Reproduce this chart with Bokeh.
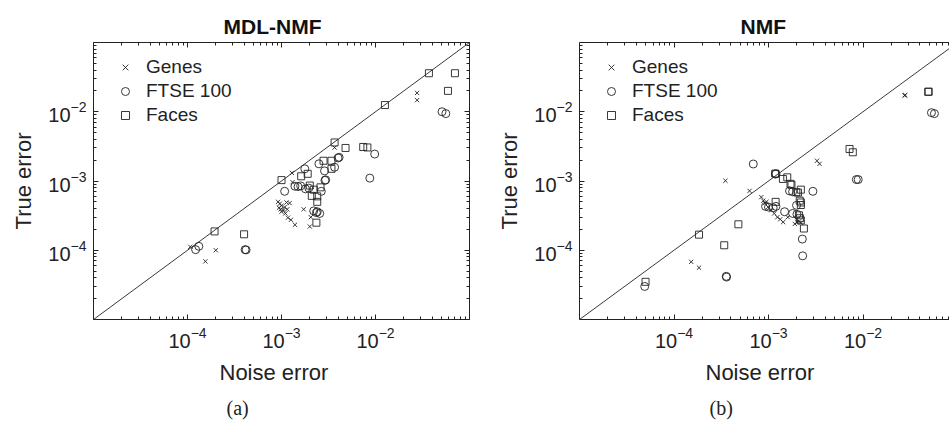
from bokeh.plotting import figure
from bokeh.layouts import row
from bokeh.models import (FixedTicker, LogAxis, Title, Legend, LegendItem, Range1d)
from bokeh.embed import file_html
from bokeh.resources import INLINE

# ---- MDL-NMF: (noise error, true error) pairs ----
mdl_genes_noise = [1.07e-4, 1.55e-4, 2.0e-4, 9.2e-4, 9.6e-4, 1.0e-3, 9.4e-4, 1.05e-3, 1.10e-3,
                   1.17e-3, 1.26e-3, 1.39e-3, 1.13e-3, 1.22e-3, 1.08e-3, 1.0e-3, 1.15e-3, 9.8e-4,
                   1.29e-3, 1.31e-3, 1.72e-3, 2.0e-3, 2.05e-3, 3.67e-3, 2.77e-2, 2.77e-2]
mdl_genes_true = [1.12e-4, 6.9e-5, 1.0e-4, 5.0e-4, 4.7e-4, 4.4e-4, 4.1e-4, 3.8e-4, 3.4e-4,
                  2.95e-4, 2.75e-4, 2.33e-4, 4.9e-4, 4.8e-4, 4.2e-4, 3.6e-4, 3.9e-4, 3.9e-4,
                  1.31e-3, 9.6e-4, 3.9e-4, 2.2e-4, 3.0e-4, 3.04e-3, 1.87e-2, 1.47e-2]

mdl_ftse_noise = [1.22e-4, 1.32e-4, 4.1e-4, 4.2e-4, 1.08e-3, 1.39e-3, 1.5e-3, 1.6e-3, 1.77e-3,
                  1.8e-3, 1.95e-3, 2.5e-3, 2.87e-3, 2.9e-3, 2.95e-3, 2.65e-3, 3.67e-3, 4.0e-3,
                  4.1e-3, 2.2e-3, 2.35e-3, 2.55e-3, 2.4e-3, 9.8e-3, 8.7e-3, 5.1e-2, 5.6e-2]
mdl_ftse_true = [1.02e-4, 1.14e-4, 1.02e-4, 1.01e-4, 7.1e-4, 8.4e-4, 8.3e-4, 8.5e-4, 1.5e-3,
                 7.7e-4, 7.9e-4, 1.77e-3, 1.4e-3, 1.02e-3, 1.04e-3, 7.1e-4, 1.58e-3, 2.15e-3,
                 2.2e-3, 3.7e-4, 3.5e-4, 3.4e-4, 3.6e-4, 2.45e-3, 1.1e-3, 1.0e-2, 9.4e-3]

mdl_faces_noise = [1.94e-4, 4.0e-4, 1.0e-3, 1.62e-3, 1.9e-3, 2.0e-3, 2.1e-3, 2.4e-3, 2.4e-3,
                   2.35e-3, 2.6e-3, 2.2e-3, 2.8e-3, 3.4e-3, 3.67e-3, 3.4e-3, 4.8e-3, 7.4e-3,
                   8.2e-3, 1.26e-2, 3.7e-2, 5.9e-2, 7.0e-2]
mdl_faces_true = [1.87e-4, 1.7e-4, 1.03e-3, 1.17e-3, 1.27e-3, 8.6e-4, 6.1e-4, 6.0e-4, 5.0e-4,
                  2.5e-4, 8.1e-4, 7.5e-4, 1.96e-3, 1.96e-3, 3.6e-3, 1.5e-3, 3.0e-3, 3.1e-3,
                  3.05e-3, 1.25e-2, 3.6e-2, 2.0e-2, 3.6e-2]

# ---- NMF: (noise error, true error) pairs ----
nmf_genes_noise = [1.52e-4, 1.84e-4, 3.5e-4, 6.3e-4, 8.4e-4, 8.8e-4, 9.2e-4, 9.9e-4, 1.07e-3,
                   1.15e-3, 1.24e-3, 1.33e-3, 1.43e-3, 9.5e-4, 1.6e-3, 1.9e-3, 2.0e-3, 2.1e-3,
                   2.2e-3, 3.26e-3, 3.47e-3, 2.75e-2, 2.8e-2]
nmf_genes_true = [6.8e-5, 5.6e-5, 1.01e-3, 7.2e-4, 5.85e-4, 5.2e-4, 4.8e-4, 4.2e-4, 3.8e-4,
                  3.4e-4, 3.0e-4, 2.8e-4, 2.55e-4, 5.0e-4, 3.0e-4, 2.4e-4, 2.55e-4, 2.6e-4,
                  2.5e-4, 1.96e-3, 1.77e-3, 1.72e-2, 1.74e-2]

nmf_ftse_noise = [4.9e-5, 3.57e-4, 3.6e-4, 6.9e-4, 1.18e-3, 1.2e-3, 9.3e-4, 1.0e-3, 1.12e-3,
                  1.2e-3, 1.48e-3, 1.67e-3, 1.8e-3, 1.98e-3, 1.8e-3, 2.0e-3, 2.28e-3, 2.3e-3,
                  2.95e-3, 8.5e-3, 8.9e-3, 5.3e-2, 5.7e-2]
nmf_ftse_true = [3.0e-5, 4.2e-5, 4.1e-5, 1.76e-3, 1.26e-3, 1.27e-3, 4.3e-4, 4.2e-4, 4.1e-4,
                 4.3e-4, 3.6e-4, 7.2e-4, 7.0e-4, 4.45e-4, 3.4e-4, 3.3e-4, 1.45e-4, 8.3e-5,
                 7.1e-4, 1.05e-3, 1.05e-3, 9.7e-3, 9.4e-3]

nmf_faces_noise = [5.0e-5, 1.84e-4, 3.4e-4, 4.8e-4, 1.18e-3, 1.19e-3, 1.42e-3, 1.58e-3, 1.71e-3,
                   1.75e-3, 1.97e-3, 2.05e-3, 2.2e-3, 2.14e-3, 2.2e-3, 2.2e-3, 2.1e-3, 2.15e-3,
                   2.2e-3, 2.37e-3, 7.2e-3, 7.8e-3, 4.9e-2, 4.95e-2]
nmf_faces_true = [3.5e-5, 1.68e-4, 1.18e-4, 2.37e-4, 1.28e-3, 5.0e-4, 1.07e-3, 1.13e-3, 9.1e-4,
                  8.8e-4, 6.9e-4, 6.8e-4, 7.5e-4, 5.2e-4, 4.9e-4, 4.5e-4, 3.2e-4, 2.9e-4,
                  2.7e-4, 2.06e-4, 2.9e-3, 2.6e-3, 1.94e-2, 1.95e-2]

series_names = ["Genes", "FTSE 100", "Faces"]
major_ticks = [1e-4, 1e-3, 1e-2]
axis_lo, axis_hi = 1e-5, 1e-1

FONT = "Liberation Sans"
INK = "#222222"
FRAME_H = 277
minor_ticks = [k * 10.0 ** d for d in range(-5, -1) for k in range(2, 10)]


def style_axis(ax, labels=True):
    ax.ticker = FixedTicker(ticks=major_ticks, minor_ticks=minor_ticks)
    ax.major_tick_in = 5
    ax.major_tick_out = 0
    ax.minor_tick_in = 3
    ax.minor_tick_out = 0
    ax.major_tick_line_color = INK
    ax.minor_tick_line_color = INK
    ax.axis_line_color = INK
    ax.major_label_text_font = FONT
    ax.major_label_text_font_size = "20px"
    ax.major_label_text_color = INK if labels else None
    ax.major_label_standoff = 7 if labels else 0


def make_panel(title, caption, gx, gy, fx, fy, sx, sy, x_end, frame_w,
               border_left, border_right, right_axis, offsets):
    title_off, xlabel_off, caption_off = offsets
    p = figure(x_axis_type="log", y_axis_type="log",
               x_range=Range1d(axis_lo, x_end), y_range=Range1d(axis_lo, axis_hi),
               frame_width=frame_w, frame_height=FRAME_H,
               min_border_left=border_left, min_border_right=border_right,
               min_border_top=42, min_border_bottom=105,
               output_backend="svg", toolbar_location=None)
    p.grid.visible = False
    p.outline_line_color = INK if right_axis else None
    p.background_fill_color = "white"
    p.border_fill_color = "white"

    style_axis(p.xaxis[0])
    style_axis(p.yaxis[0])
    yax = p.yaxis[0]
    yax.axis_label = "True error"
    yax.axis_label_text_font = FONT
    yax.axis_label_text_font_style = "normal"
    yax.axis_label_text_font_size = "22px"
    yax.axis_label_text_color = INK
    yax.axis_label_standoff = 9

    top = LogAxis()
    style_axis(top, labels=False)
    p.add_layout(top, "above")
    if right_axis:
        rt = LogAxis()
        style_axis(rt, labels=False)
        p.add_layout(rt, "right")

    # identity reference line y = x
    p.line([axis_lo, axis_hi], [axis_lo, axis_hi], line_color=INK, line_width=0.9)

    common = dict(fill_color=None, line_color=INK, line_width=0.9)
    rg = p.scatter(gx, gy, marker="x", size=6, **common)
    rf = p.scatter(fx, fy, marker="circle", size=8, **common)
    rs = p.scatter(sx, sy, marker="square", size=7, **common)

    legend = Legend(items=[LegendItem(label=series_names[0], renderers=[rg]),
                           LegendItem(label=series_names[1], renderers=[rf]),
                           LegendItem(label=series_names[2], renderers=[rs])],
                    location=(22, FRAME_H - 18 - 66), padding=0, margin=0, spacing=2,
                    glyph_width=20, glyph_height=20, label_height=20,
                    label_standoff=11, background_fill_alpha=0,
                    border_line_color=None, label_text_font=FONT,
                    label_text_font_size="19px", label_text_color=INK)
    p.add_layout(legend)

    p.title = Title(text=title, align="left", offset=title_off, text_font=FONT,
                    text_font_size="21px", text_font_style="bold",
                    text_color="#111111")
    p.add_layout(Title(text="Noise error", align="left", offset=xlabel_off,
                       text_font=FONT, text_font_size="22px",
                       text_font_style="normal", text_color=INK, standoff=14), "below")
    p.add_layout(Title(text=caption, align="left", offset=caption_off,
                       text_font="Liberation Serif", text_font_size="20px",
                       text_font_style="normal", text_color=INK, standoff=6), "below")
    return p


left = make_panel("MDL-NMF", "(a)", mdl_genes_noise, mdl_genes_true,
                  mdl_ftse_noise, mdl_ftse_true, mdl_faces_noise, mdl_faces_true,
                  axis_hi, 376, 93, 11, True, (130, 126, 133))
right = make_panel("NMF", "(b)", nmf_genes_noise, nmf_genes_true,
                   nmf_ftse_noise, nmf_ftse_true, nmf_faces_noise, nmf_faces_true,
                   10 ** (-5 + 370 / 94.5), 370, 99, 0, False, (161, 126, 130))

layout = row(left, right)
open("out.html", "w").write(file_html(layout, INLINE))
